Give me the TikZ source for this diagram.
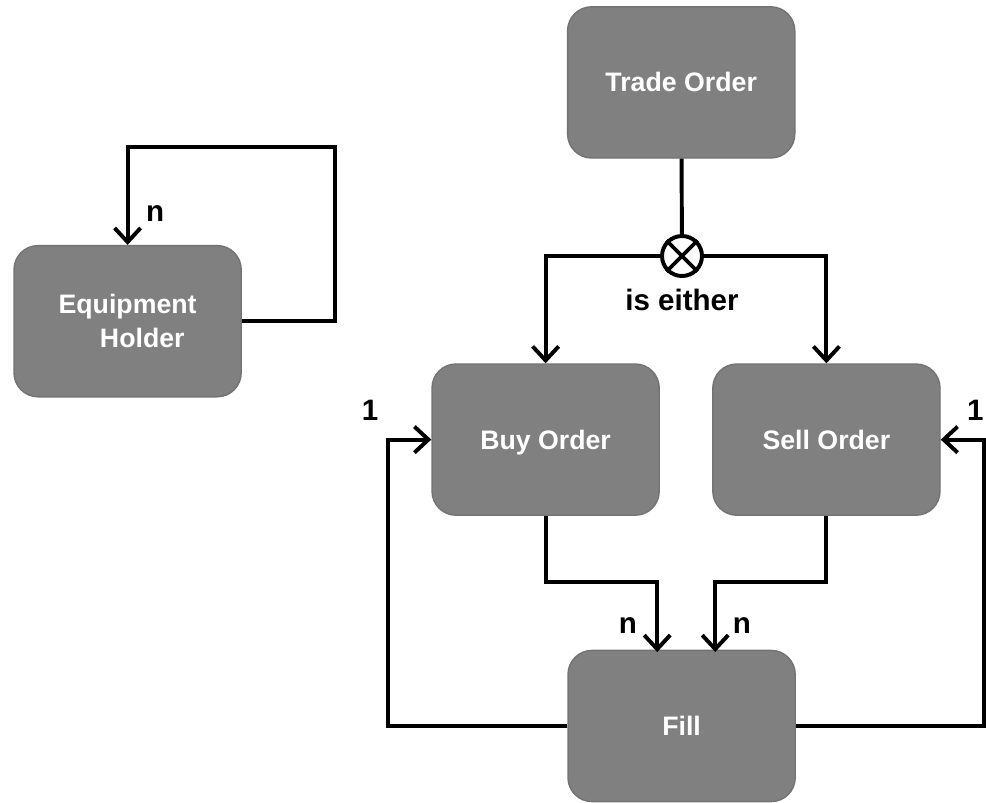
\documentclass[tikz,border=0pt]{standalone}
\usepackage{fontspec}
\setmainfont{Liberation Sans}
\usetikzlibrary{arrows.meta}

\tikzset{
  entity/.style={rectangle, rounded corners=0.6cm, fill=gray!100!white, draw=black!55,
    line width=1pt, minimum width=5.68cm, minimum height=3.78cm, inner sep=0pt,
    text=white, font=\fontsize{19}{24}\selectfont\bfseries, align=center,
    text height=13.6pt, text depth=0pt},
  link/.style={line width=2.8pt},
  card/.style={font=\fontsize{21}{24}\selectfont\bfseries}
}

\begin{document}
\begin{tikzpicture}[>={Straight Barb[length=3.5mm,width=6.5mm]}]
\useasboundingbox (0cm, 0cm) rectangle (24.65cm, -20.05cm);
%%entities
\node[entity] (trade) at (17.03cm, -2.06cm) {Trade Order};
\node[entity, text height=, text depth=] (holder) at (3.19cm, -8.03cm) {Equipment\\\hspace*{1.1em}Holder};
\node[entity] (buy) at (13.64cm, -10.99cm) {Buy Order};
\node[entity] (sell) at (20.66cm, -10.99cm) {Sell Order};
\node[entity] (fill) at (17.04cm, -18.15cm) {Fill};
%exclusive choice
\node[circle, draw, link, fill=white, minimum size=1.0cm, inner sep=0pt] (xor) at (17.05cm, -6.4cm) {};
\draw[line width=2.6pt] (xor.north west) -- (xor.south east);
\draw[line width=2.6pt] (xor.north east) -- (xor.south west);
\draw[link] (trade) -- (xor);
\draw[link,->] (xor) -| (buy);
\draw[link,->] (xor) -| (sell);
\node[card] (either) at (17.05cm, -7.5cm) {is either};
%holder self link
\draw[link,->] (holder.east) -| (8.38cm, -3.68cm) -| (holder.north);
\node[card] (nholder) at (3.88cm, -5.33cm) {n};
%orders -> fill
\coordinate (fillbuy) at (16.43cm, -16.3cm);
\coordinate (fillsell) at (17.88cm, -16.3cm);
\draw[link,->] (buy.south) |- (14cm, -14.55cm) -| (fillbuy);
\draw[link,->] (sell.south) |- (19cm, -14.55cm) -| (fillsell);
\node[card] (nbuy) at (15.7cm, -15.63cm) {n};
\node[card] (nsell) at (18.55cm, -15.63cm) {n};
%fill -> orders
\draw[link,->] (fill.west) -| (9.7cm, -10.99cm) -- (buy.west);
\draw[link,->] (fill.east) -| (24.6cm, -10.99cm) -- (sell.east);
\node[card] (onebuy) at (9.25cm, -10.25cm) {1};
\node[card] (onesell) at (24.38cm, -10.25cm) {1};
\end{tikzpicture}
\end{document}
